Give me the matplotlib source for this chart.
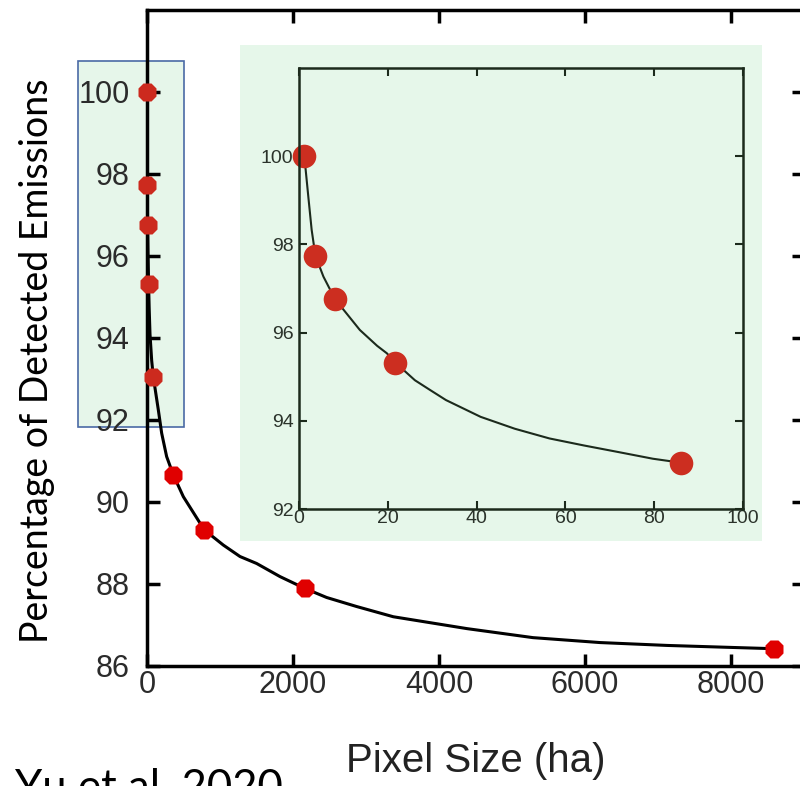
import matplotlib
matplotlib.use('Agg')
import matplotlib.pyplot as plt
from matplotlib.patches import Rectangle

plt.rcParams['font.family'] = 'Liberation Sans'

# main chart: measured points (pixel size in ha, % detected)
pts_x = [1.2, 3.7, 8.1, 21.7, 86, 361, 785, 2164, 8589]
pts_y = [100.0, 97.74, 96.76, 95.32, 93.05, 90.65, 89.31, 87.88, 86.41]

# fitted curve
curve_x = [1.2, 2.1, 2.85, 3.7, 5.5, 8.1, 13.7, 21.7, 29.5, 40.9, 64.2, 86, 155, 201, 269, 361,
           498, 785, 1045, 1274, 1502, 1822, 2164, 2461, 2871, 3374, 4384, 5288, 6205, 7123,
           8027, 8589]
curve_y = [100.0, 99.08, 98.33, 97.74, 97.27, 96.76, 96.06, 95.32, 94.74, 94.09, 93.44, 93.05,
           92.24, 91.67, 91.10, 90.65, 90.12, 89.31, 88.94, 88.66, 88.49, 88.17, 87.88, 87.66,
           87.44, 87.19, 86.9, 86.68, 86.56, 86.49, 86.44, 86.41]

# zoomed inset (0-100 ha)
inset_pts_x = [1.2, 3.7, 8.1, 21.7, 86.0]
inset_pts_y = [100.0, 97.74, 96.76, 95.32, 93.05]
inset_curve_x = [1.2, 2.1, 2.85, 3.7, 5.5, 8.1, 13.7, 17.6, 19.8, 21.7, 26.1, 29.5, 33.1,
                 40.9, 48.6, 56.4, 64.2, 72.0, 79.7, 86.0]
inset_curve_y = [100.0, 99.08, 98.33, 97.74, 97.27, 96.76, 96.06, 95.70, 95.53, 95.32, 94.92,
                 94.70, 94.47, 94.09, 93.82, 93.60, 93.44, 93.29, 93.14, 93.05]

W, H = 800, 786
fig = plt.figure(figsize=(W / 100, H / 100), dpi=100)

# blue highlight box behind the small-pixel points
box = Rectangle((78 / W, 1 - 427 / H), 106 / W, 366 / H, transform=fig.transFigure,
                facecolor='#e6f6ea', edgecolor='#4a6aa5', lw=1.2, zorder=-1)
fig.add_artist(box)

ax = fig.add_axes([147 / W, 1 - 665.5 / H, (804 - 147) / W, (665.5 - 10) / H])
ax.set_facecolor('none')
ax.plot(curve_x, curve_y, color='black', lw=2.2, zorder=2)
ax.plot(pts_x[:5], pts_y[:5], ls='none', marker='8', ms=14, color='#cc2a1e', mec='none',
        zorder=3, clip_on=False)
ax.plot(pts_x[5:], pts_y[5:], ls='none', marker='8', ms=14, color='#e00000', mec='none',
        zorder=3, clip_on=False)
ax.set_xlim(0, 9000)
ax.set_ylim(86, 102)
ax.set_xticks([0, 2000, 4000, 6000, 8000])
ax.set_yticks(range(86, 101, 2))
ax.tick_params(direction='in', length=9, width=2.5, top=True, right=True,
               labelsize=22, labelcolor='#2b2b2b')
ax.tick_params(axis='x', pad=3)
ax.tick_params(axis='y', pad=12.5)
for s in ax.spines.values():
    s.set_linewidth(2.5)

# green panel behind the inset
panel = Rectangle((240 / W, 1 - 541 / H), 522 / W, 496 / H, transform=fig.transFigure,
                  facecolor='#e6f7ea', edgecolor='none', zorder=0.5)
fig.add_artist(panel)

axi = fig.add_axes([299 / W, 1 - 509 / H, 444 / W, 441 / H])
axi.set_zorder(2)
axi.set_facecolor('none')
dark = '#1c2a1c'
axi.plot(inset_curve_x, inset_curve_y, color=dark, lw=1.5)
axi.plot(inset_pts_x, inset_pts_y, ls='none', marker='o', ms=17, color='#cc2e20', mec='none',
         clip_on=False)
axi.set_xlim(0, 100)
axi.set_ylim(92, 102)
axi.set_xticks([0, 20, 40, 60, 80, 100])
axi.set_yticks([92, 94, 96, 98, 100])
axi.tick_params(direction='in', length=6, width=1.5, top=True, right=True,
                labelsize=14, labelcolor='#2b332b', color=dark)
axi.tick_params(axis='x', pad=1)
axi.tick_params(axis='y', pad=4)
for s in axi.spines.values():
    s.set_linewidth(1.8)
    s.set_color(dark)

fig.text(476 / W, 1 - 772 / H, 'Pixel Size (ha)', ha='center', va='baseline',
         fontsize=29, color='#222222')
fig.text(37 / W, 1 - 361 / H, 'Percentage of Detected Emissions', rotation=90,
         ha='center', va='center', family='Lato', fontsize=27, color='black')
fig.text(15 / W, 1 - 801 / H, 'Yu et al. 2020', ha='left', va='baseline',
         family='Lato', fontsize=31.5, color='black')

plt.savefig('out.png', dpi=100)
